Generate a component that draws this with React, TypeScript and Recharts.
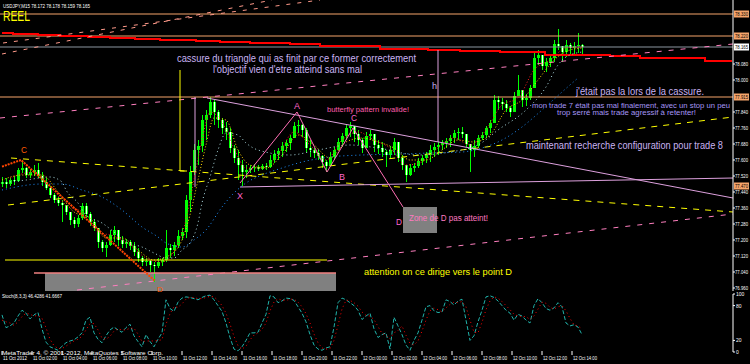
import React from "react";
import { ComposedChart, Bar, Line, XAxis, YAxis, ReferenceLine, ReferenceArea } from "recharts";

// USDJPY M15 candles, one per bar (prices)
const highs = [
  77.515, 77.51, 77.51, 77.52, 77.56, 77.6, 77.565, 77.555, 77.575, 77.585,
  77.54, 77.51, 77.47, 77.435, 77.415, 77.4, 77.375, 77.33, 77.315, 77.325,
  77.385, 77.385, 77.34, 77.305, 77.225, 77.2, 77.19, 77.25, 77.27, 77.24,
  77.22, 77.205, 77.2, 77.19, 77.16, 77.12, 77.11, 77.1, 77.09, 77.11,
  77.11, 77.25, 77.18, 77.19, 77.25, 77.26, 77.425, 77.57, 77.68, 77.7,
  77.825, 77.85, 77.915, 77.9, 77.85, 77.81, 77.79, 77.76, 77.675, 77.65,
  77.6, 77.575, 77.575, 77.58, 77.575, 77.58, 77.585, 77.625, 77.65, 77.66,
  77.69, 77.7, 77.725, 77.79, 77.8, 77.78, 77.76, 77.7, 77.66, 77.65,
  77.625, 77.6, 77.64, 77.665, 77.71, 77.735, 77.775, 77.79, 77.77, 77.75,
  77.71, 77.74, 77.75, 77.72, 77.7, 77.69, 77.65, 77.67, 77.71, 77.66,
  77.625, 77.575, 77.58, 77.585, 77.61, 77.625, 77.64, 77.675, 77.685, 77.69,
  77.7, 77.71, 77.725, 77.75, 77.76, 77.765, 77.725, 77.675, 77.7, 77.725,
  77.74, 77.77, 77.8, 77.925, 77.92, 77.91, 77.9, 77.87, 77.94, 78.025,
  77.94, 77.93, 77.975, 78.14, 78.15, 78.12, 78.11, 78.125, 78.2, 78.255,
  78.17, 78.2, 78.185, 78.19, 78.235, 78.18,
];
const lows = [
  77.465, 77.46, 77.47, 77.475, 77.49, 77.535, 77.51, 77.51, 77.52, 77.51,
  77.47, 77.45, 77.41, 77.385, 77.37, 77.29, 77.325, 77.275, 77.26, 77.265,
  77.3, 77.31, 77.27, 77.245, 77.16, 77.14, 77.115, 77.17, 77.19, 77.17,
  77.16, 77.16, 77.15, 77.12, 77.09, 77.07, 77.07, 77.04, 76.99, 77.06,
  77.07, 77.09, 77.11, 77.12, 77.16, 77.2, 77.21, 77.34, 77.525, 77.575,
  77.64, 77.7, 77.81, 77.775, 77.76, 77.73, 77.7, 77.635, 77.585, 77.5,
  77.47, 77.51, 77.535, 77.54, 77.545, 77.55, 77.55, 77.56, 77.585, 77.6,
  77.615, 77.64, 77.65, 77.71, 77.735, 77.715, 77.64, 77.615, 77.61, 77.6,
  77.56, 77.54, 77.57, 77.6, 77.65, 77.665, 77.7, 77.715, 77.69, 77.675,
  77.635, 77.675, 77.7, 77.64, 77.63, 77.615, 77.565, 77.61, 77.625, 77.59,
  77.55, 77.49, 77.52, 77.54, 77.56, 77.575, 77.585, 77.59, 77.615, 77.625,
  77.65, 77.66, 77.665, 77.685, 77.7, 77.71, 77.665, 77.54, 77.615, 77.66,
  77.7, 77.71, 77.735, 77.79, 77.85, 77.85, 77.84, 77.815, 77.85, 77.92,
  77.865, 77.87, 77.9, 77.96, 78.075, 78.05, 78.04, 78.065, 78.09, 78.15,
  78.09, 78.115, 78.125, 78.13, 78.135, 78.125,
];
const closes = [
  77.49, 77.48, 77.5, 77.495, 77.55, 77.56, 77.525, 77.54, 77.55, 77.52,
  77.49, 77.46, 77.425, 77.4, 77.385, 77.375, 77.34, 77.3, 77.28, 77.31,
  77.37, 77.33, 77.29, 77.26, 77.19, 77.16, 77.175, 77.225, 77.25, 77.2,
  77.18, 77.19, 77.17, 77.14, 77.11, 77.09, 77.095, 77.075, 77.07, 77.09,
  77.1, 77.16, 77.15, 77.175, 77.22, 77.24, 77.4, 77.54, 77.65, 77.67,
  77.8, 77.825, 77.89, 77.84, 77.8, 77.76, 77.74, 77.66, 77.61, 77.575,
  77.54, 77.55, 77.56, 77.565, 77.555, 77.57, 77.565, 77.6, 77.63, 77.645,
  77.67, 77.685, 77.71, 77.77, 77.775, 77.75, 77.66, 77.65, 77.635, 77.62,
  77.59, 77.57, 77.615, 77.65, 77.69, 77.72, 77.76, 77.77, 77.73, 77.7,
  77.66, 77.72, 77.73, 77.675, 77.66, 77.64, 77.625, 77.65, 77.69, 77.61,
  77.575, 77.525, 77.56, 77.57, 77.595, 77.61, 77.625, 77.65, 77.665, 77.675,
  77.685, 77.695, 77.71, 77.735, 77.74, 77.73, 77.68, 77.65, 77.67, 77.71,
  77.725, 77.76, 77.785, 77.9, 77.89, 77.88, 77.86, 77.84, 77.92, 77.95,
  77.9, 77.91, 77.96, 78.11, 78.125, 78.07, 78.09, 78.11, 78.18, 78.17,
  78.14, 78.175, 78.16, 78.17, 78.175, 78.165,
];
const firstOpen = 77.48;

// stochastic main / signal, one per bar
const stochMain = [
  64, 42, 45, 50, 62, 72, 67, 57, 64, 68,
  40, 17, 9, 6, 3, 10, 16, 19, 21, 26,
  33, 55, 60, 33, 22, 16, 28, 38, 43, 38,
  34, 42, 48, 28, 18, 9, 30, 18, 9, 22,
  33, 90, 75, 70, 86, 93, 95, 94, 92, 90,
  94, 97, 98, 90, 80, 70, 50, 25, 5, 2,
  9, 20, 33, 33, 34, 50, 65, 97, 95, 85,
  88, 93, 92, 89, 78, 67, 52, 30, 12, 5,
  3, 7, 9, 43, 85, 93, 90, 85, 80, 72,
  56, 62, 67, 40, 25, 30, 33, 5, 60, 45,
  30, 12, 3, 20, 33, 55, 78, 80, 71, 68,
  69, 90, 87, 81, 88, 91, 55, 20, 28, 52,
  72, 95, 97, 94, 88, 80, 72, 67, 55, 65,
  62, 55, 50, 80, 92, 85, 75, 72, 76, 85,
  78, 50, 45, 47, 43, 30,
];
const stochSignal = [
  55, 52, 50, 46, 52, 61, 67, 65, 62, 63,
  58, 42, 22, 11, 6, 6, 10, 15, 19, 22,
  27, 38, 49, 49, 38, 24, 22, 27, 36, 40,
  38, 38, 41, 41, 31, 18, 19, 19, 19, 20,
  21, 48, 66, 78, 77, 83, 91, 94, 94, 92,
  92, 94, 96, 95, 89, 80, 67, 48, 27, 11,
  5, 10, 21, 29, 33, 39, 50, 71, 86, 92,
  89, 89, 91, 91, 86, 78, 66, 50, 31, 16,
  7, 5, 6, 20, 46, 74, 89, 89, 85, 79,
  69, 63, 62, 56, 44, 32, 29, 23, 33, 37,
  45, 29, 15, 12, 19, 36, 55, 71, 76, 73,
  69, 76, 82, 86, 85, 87, 78, 55, 34, 33,
  51, 73, 88, 95, 93, 87, 80, 73, 65, 62,
  61, 61, 56, 62, 74, 86, 84, 77, 74, 78,
  80, 71, 58, 47, 45, 40,
];

// dotted moving averages: [bar, price]
const slowMa = [
  [0, 77.45], [10, 77.48], [15, 77.48], [20, 77.45], [25, 77.415], [30, 77.35],
  [35, 77.265], [39, 77.215], [41, 77.185], [45, 77.165], [48, 77.2], [51, 77.25],
  [55, 77.365], [58, 77.435], [61, 77.485], [65, 77.525], [70, 77.56], [75, 77.59],
  [82, 77.615], [90, 77.625], [100, 77.63], [107, 77.635], [115, 77.64], [120, 77.66],
  [125, 77.7], [130, 77.765], [135, 77.85], [140, 77.94], [144, 78.01],
];
const midMa = [
  [0, 77.485], [6, 77.5], [12, 77.515], [15, 77.49], [16, 77.45], [19, 77.385],
  [21, 77.325], [25, 77.285], [28, 77.24], [31, 77.19], [35, 77.165], [38, 77.135],
  [41, 77.11], [43, 77.11], [45, 77.15], [47, 77.185], [49, 77.285], [50, 77.385],
  [52, 77.515], [54, 77.65], [56, 77.735], [59, 77.725], [61, 77.685], [64, 77.65],
  [72, 77.625], [79, 77.65], [87, 77.675], [94, 77.66], [104, 77.625], [112, 77.64],
  [119, 77.675], [124, 77.75], [131, 77.85], [136, 77.965], [139, 78.075], [141, 78.115],
  [145, 78.14],
];
const fastMa = [
  [0, 77.5], [5, 77.525], [10, 77.525], [14, 77.44], [18, 77.34], [22, 77.31],
  [26, 77.21], [30, 77.21], [34, 77.15], [38, 77.1], [42, 77.125], [45, 77.2],
  [47, 77.325], [49, 77.5], [51, 77.675], [53, 77.81], [56, 77.8], [59, 77.65],
  [62, 77.575], [66, 77.56], [70, 77.625], [74, 77.725], [78, 77.675], [82, 77.61],
  [86, 77.69], [90, 77.71], [94, 77.69], [98, 77.66], [102, 77.6], [106, 77.6],
  [110, 77.65], [114, 77.7], [118, 77.69], [122, 77.725], [126, 77.85], [130, 77.9],
  [134, 78.0], [138, 78.1], [142, 78.15], [145, 78.16],
];
const redMa = [
  [2, 77.51], [8, 77.54], [12, 77.475], [16, 77.375], [20, 77.34], [24, 77.24],
  [28, 77.22], [32, 77.175], [36, 77.11], [40, 77.09], [44, 77.185], [46, 77.3],
  [48, 77.5], [50, 77.7], [52, 77.84], [55, 77.79], [58, 77.66], [61, 77.56],
  [65, 77.56], [69, 77.625], [73, 77.74], [77, 77.675], [81, 77.6], [85, 77.7],
  [89, 77.74], [93, 77.7], [97, 77.66], [101, 77.575], [105, 77.59], [109, 77.66],
  [113, 77.71], [117, 77.675], [121, 77.75], [125, 77.875], [129, 77.91], [133, 78.05],
  [137, 78.1], [141, 78.16], [145, 78.165],
];
// stepped red level line
const redSteps = [
  [0, 78.235], [2.75, 78.23], [9, 78.225], [14.5, 78.22], [21.5, 78.215], [27, 78.21],
  [33.25, 78.205], [39.5, 78.2], [48.5, 78.195], [54.5, 78.19], [62, 78.185], [72, 78.18],
  [79.5, 78.17], [94.5, 78.155], [106.5, 78.15], [114.5, 78.145], [124.5, 78.14],
  [135.75, 78.125], [152, 78.12], [159.5, 78.11], [175.75, 78.095], [182.5, 78.095],
];

// trader drawn objects
const orangeLevels = [78.33, 78.22, 77.915];
const bidLevel = 78.165;
const markedLevel = 77.47;
const salmonRays = [[0.25, 78.185, 79.5, 78.4], [0, 78.13, 67.5, 78.4]];
const pinkRays = [[-0.5, 77.81, 182.75, 78.18], [18.75, 76.95, 182.75, 77.33]];
const yellowRays = [[2.25, 77.61, 182.75, 77.34], [1.5, 77.375, 182.75, 77.815]];
const plumLines = [
  [51.25, 77.91, 182.75, 77.41], [59.5, 77.465, 182.75, 77.51],
  [48.25, 77.915, 48.25, 77.465], [109, 78.15, 109, 77.69],
];
const yellowLines = [
  [0.75, 77.1, 81.25, 77.1], [44.5, 78.05, 44.5, 77.545], [44.5, 77.545, 46.25, 77.545],
];
const salmonFloor = [[8, 77.035, 83.5, 77.035]];
const grayZones = [[10.75, 83.5, 76.945, 77.035], [100.25, 108.75, 77.235, 77.365]];
const butterfly = [[59.5, 77.485], [73.75, 77.84], [81.25, 77.54], [87.75, 77.76], [100.25, 77.365]];
const cdLeg = [[0, 77.567], [4.75, 77.6], [38.25, 76.995]];

const priceTicks = [78.08, 78.0, 77.84, 77.76, 77.68, 77.6, 77.52, 77.44, 77.36, 77.28, 77.2, 77.12, 77.04, 76.96];
const stochTicks = [0, 20, 80, 100];
const timeLabels = [
  "11 Oct 2012", "11 Oct 02:00", "11 Oct 04:00", "11 Oct 06:00", "11 Oct 08:00",
  "11 Oct 10:00", "11 Oct 12:00", "11 Oct 14:00", "11 Oct 16:00", "11 Oct 18:00",
  "11 Oct 20:00", "11 Oct 22:00", "12 Oct 00:00", "12 Oct 02:00", "12 Oct 04:00",
  "12 Oct 06:00", "12 Oct 08:00", "12 Oct 10:00", "12 Oct 12:00", "12 Oct 14:00",
];

const candles = closes.map((c, i) => ({
  i,
  o: i === 0 ? firstOpen : closes[i - 1],
  h: highs[i],
  l: lows[i],
  c,
}));
const stochData = stochMain.map((v, i) => ({ i, k: v, d: stochSignal[i] }));
const pts = (arr: number[][]) => arr.map(([i, p]) => ({ i, p }));

const X_DOMAIN: [number, number] = [-0.5, 182.75];
const FONT = "'Liberation Sans', Arial, sans-serif";

const Candle = (props: any) => {
  const { x, y, width, height, payload } = props;
  const hi = Math.max(payload.h, payload.o, payload.c);
  const lo = Math.min(payload.l, payload.o, payload.c);
  const h = Math.abs(height);
  const top0 = Math.min(y, y + height);
  const span = hi - lo || 1;
  const toY = (p: number) => top0 + ((hi - p) / span) * h;
  const cx = Math.round(x + width / 2) + 0.5;
  const bTop = toY(Math.max(payload.o, payload.c));
  const bBot = toY(Math.min(payload.o, payload.c));
  const bh = Math.max(bBot - bTop, 1);
  return (
    <g>
      <line x1={cx} x2={cx} y1={top0} y2={top0 + h} stroke="#00ff00" />
      <rect x={cx - 1.5} y={bTop} width={3} height={bh} fill="#00ff00" />
      {payload.c < payload.o && <rect x={cx - 0.5} y={bTop} width={1} height={bh} fill="#ffffff" />}
    </g>
  );
};

const PriceTick = ({ x, y, payload }: any) => (
  <text x={x - 2} y={y + 2} fontSize={5} fill="#ffffff" fontFamily={FONT} textLength={13} lengthAdjust="spacingAndGlyphs">
    {payload.value.toFixed(3)}
  </text>
);

const StochTick = ({ x, y, payload }: any) => (
  <text x={x - 1} y={y + 2} fontSize={5} fill="#ffffff" fontFamily={FONT}>
    {payload.value}
  </text>
);

const TimeTick = ({ x, y, payload }: any) => (
  <g>
    <line x1={x} x2={x} y1={y - 1} y2={y + 3} stroke="#ffffff" />
    <text x={x + 1} y={y + 8} fontSize={5} fill="#ffffff" fontFamily={FONT} textLength={24} lengthAdjust="spacingAndGlyphs">
      {timeLabels[Math.round(payload.value / 7.5)]}
    </text>
  </g>
);

const PriceTag = ({ viewBox, price, bg, fg }: any) => {
  if (!viewBox) return null;
  const x = viewBox.x + viewBox.width + 1;
  return (
    <g>
      <rect x={x} y={viewBox.y - 3.5} width={15} height={7} fill={bg} />
      <text x={x + 1} y={viewBox.y + 2} fontSize={5} fill={fg} fontFamily={FONT} textLength={13} lengthAdjust="spacingAndGlyphs">
        {price.toFixed(3)}
      </text>
    </g>
  );
};

const seg = (s: number[]) => [
  { x: s[0], y: s[1] },
  { x: s[2], y: s[3] },
];

// annotation text squeezed horizontally to the width it has on the chart
const Txt = ({ x, y, w, size, color, children }: any) => {
  const est = String(children).length * size * 0.5;
  const sx = Math.min(1.2, w / est);
  return (
    <text
      transform={`translate(${x},${y}) scale(${sx},1)`}
      fontSize={size}
      fill={color}
      fontFamily={FONT}
      textLength={w / sx}
      lengthAdjust="spacingAndGlyphs"
    >
      {children}
    </text>
  );
};

const App = () => {
  return (
    <div style={{ position: "absolute", left: 0, top: 0, width: 750, height: 364, background: "#000", overflow: "hidden" }}>
      <div style={{ position: "absolute", left: 0, top: 0 }}>
        <ComposedChart width={750} height={291} data={candles} margin={{ top: 0, right: 0, left: 0, bottom: 0 }}>
          <XAxis type="number" dataKey="i" domain={X_DOMAIN} hide allowDataOverflow />
          <YAxis
            orientation="right"
            width={17}
            domain={[76.945, 78.4]}
            allowDataOverflow
            ticks={priceTicks}
            interval={0}
            tick={<PriceTick />}
            tickSize={2}
            axisLine={{ stroke: "#ffffff" }}
            tickLine={{ stroke: "#ffffff" }}
          />
          {grayZones.map((z, k) => (
            <ReferenceArea key={"z" + k} x1={z[0]} x2={z[1]} y1={z[2]} y2={z[3]} fill="#808080" fillOpacity={1} stroke="none" ifOverflow="hidden" />
          ))}
          {orangeLevels.map((v) => (
            <ReferenceLine key={v} y={v} stroke="#f5a46a" label={<PriceTag price={v} bg="#f5a46a" fg="#000" />} />
          ))}
          <ReferenceLine y={bidLevel} stroke="#8c96a0" label={<PriceTag price={bidLevel} bg="#ffffff" fg="#000" />} />
          <ReferenceLine y={markedLevel} stroke="none" strokeOpacity={0} label={<PriceTag price={markedLevel} bg="#f5a46a" fg="#000" />} />
          <Line data={pts(redSteps)} dataKey="p" type="stepAfter" stroke="#ff0000" strokeWidth={2} dot={false} activeDot={false} isAnimationActive={false} />
          {salmonRays.map((s, k) => (
            <ReferenceLine key={"s" + k} segment={seg(s)} stroke="#ff9a8a" strokeDasharray="4 7" ifOverflow="hidden" />
          ))}
          {pinkRays.map((s, k) => (
            <ReferenceLine key={"p" + k} segment={seg(s)} stroke="#ff7fbf" strokeDasharray="5 7" ifOverflow="hidden" />
          ))}
          {yellowRays.map((s, k) => (
            <ReferenceLine key={"y" + k} segment={seg(s)} stroke="#ffff00" strokeDasharray="6 6" ifOverflow="hidden" />
          ))}
          {plumLines.map((s, k) => (
            <ReferenceLine key={"l" + k} segment={seg(s)} stroke="#dda0dd" ifOverflow="hidden" />
          ))}
          {yellowLines.map((s, k) => (
            <ReferenceLine key={"v" + k} segment={seg(s)} stroke="#ffff00" ifOverflow="hidden" />
          ))}
          {salmonFloor.map((s, k) => (
            <ReferenceLine key={"f" + k} segment={seg(s)} stroke="#f08080" strokeWidth={1.5} ifOverflow="hidden" />
          ))}
          <Line data={pts(slowMa)} dataKey="p" type="monotone" stroke="#1e90ff" strokeDasharray="1 3" dot={false} activeDot={false} isAnimationActive={false} />
          <Line data={pts(midMa)} dataKey="p" type="monotone" stroke="#b0e0e6" strokeDasharray="1 3" dot={false} activeDot={false} isAnimationActive={false} />
          <Bar dataKey={(d: any) => [Math.min(d.l, d.o, d.c), Math.max(d.h, d.o, d.c)]} barSize={3} shape={<Candle />} isAnimationActive={false} />
          <Line data={pts(fastMa)} dataKey="p" type="monotone" stroke="#ffd700" strokeDasharray="1 2" dot={false} activeDot={false} isAnimationActive={false} />
          <Line data={pts(redMa)} dataKey="p" type="monotone" stroke="#ff2020" strokeDasharray="1 2" dot={false} activeDot={false} isAnimationActive={false} />
          <Line data={pts(butterfly)} dataKey="p" type="linear" stroke="#ff6eb4" dot={false} activeDot={false} isAnimationActive={false} />
          <Line data={pts(cdLeg)} dataKey="p" type="linear" stroke="#ff4500" strokeWidth={2} strokeDasharray="2 1" dot={false} activeDot={false} isAnimationActive={false} />
        </ComposedChart>
      </div>
      <div style={{ position: "absolute", left: 0, top: 292 }}>
        <ComposedChart width={750} height={72} data={stochData} margin={{ top: 2, right: 0, left: 0, bottom: 0 }}>
          <XAxis
            type="number"
            dataKey="i"
            domain={X_DOMAIN}
            allowDataOverflow
            ticks={timeLabels.map((_, k) => k * 7.5)}
            interval={0}
            height={12}
            tickSize={0}
            tickMargin={0}
            axisLine={false}
            tick={<TimeTick />}
          />
          <YAxis
            orientation="right"
            width={17}
            domain={[0, 100]}
            ticks={stochTicks}
            interval={0}
            tick={<StochTick />}
            tickSize={2}
            axisLine={{ stroke: "#ffffff" }}
            tickLine={{ stroke: "#ffffff" }}
          />
          <Line dataKey="k" type="linear" stroke="#20b2aa" strokeDasharray="4 2" dot={false} activeDot={false} isAnimationActive={false} />
          <Line dataKey="d" type="linear" stroke="#ff0000" strokeDasharray="1 3" dot={false} activeDot={false} isAnimationActive={false} />
        </ComposedChart>
      </div>
      <svg width={750} height={364} style={{ position: "absolute", left: 0, top: 0, pointerEvents: "none" }}>
        <Txt x={3} y={7.5} w={87} size={6} color="#ffffff">USDJPY,M15  78.172 78.178 78.159 78.165</Txt>
        <Txt x={3} y={21} w={27} size={15} color="#ffff00">REEL</Txt>
        <Txt x={177} y={62} w={239} size={10} color="#c9b3f2">cassure du triangle qui as finit par ce former correctement</Txt>
        <Txt x={213} y={73} w={149} size={10} color="#c9b3f2">l'objectif vien d'etre atteind sans mal</Txt>
        <Txt x={432} y={89} w={5} size={9} color="#c9b3f2">h</Txt>
        <Txt x={327} y={112} w={82} size={8} color="#ff5fae">butterfly pattern invalide!</Txt>
        <Txt x={294} y={109} w={6} size={9} color="#ff66cc">A</Txt>
        <Txt x={339} y={180} w={6} size={9} color="#ff66cc">B</Txt>
        <Txt x={351} y={121} w={6} size={9} color="#ff66cc">C</Txt>
        <Txt x={237} y={199} w={6} size={9} color="#ff66cc">X</Txt>
        <Txt x={396} y={225} w={6} size={9} color="#ff66cc">D</Txt>
        <Txt x={409} y={221} w={79} size={9} color="#ff7ac0">Zone de D pas atteint!</Txt>
        <Txt x={21} y={153} w={6} size={9} color="#ff5a00">C</Txt>
        <Txt x={157} y={292} w={6} size={8} color="#ff5a00">D</Txt>
        <Txt x={364} y={275} w={148} size={9} color="#ffff00">attention on ce dirige vers le point D</Txt>
        <Txt x={576} y={95} w={128} size={11} color="#c9b3f2">j'était pas la lors de la cassure.</Txt>
        <Txt x={532} y={107.5} w={198} size={7} color="#a596f5">mon trade 7 était pas mal finalement, avec un stop un peu</Txt>
        <Txt x={557} y={115} w={139} size={7} color="#a596f5">trop serré mais trade agressif à retenter!</Txt>
        <Txt x={526} y={149} w={197} size={11} color="#c9b3f2">maintenant recherche configuration pour trade 8</Txt>
        <Txt x={2} y={298} w={60} size={6} color="#ffffff">Stoch(8,3,3) 46.4286 41.6667</Txt>
        <Txt x={2} y={355} w={161} size={6} color="#ffffff">MetaTrader 4, © 2001-2012, MetaQuotes Software Corp.</Txt>
      </svg>
    </div>
  );
};

export default App;
